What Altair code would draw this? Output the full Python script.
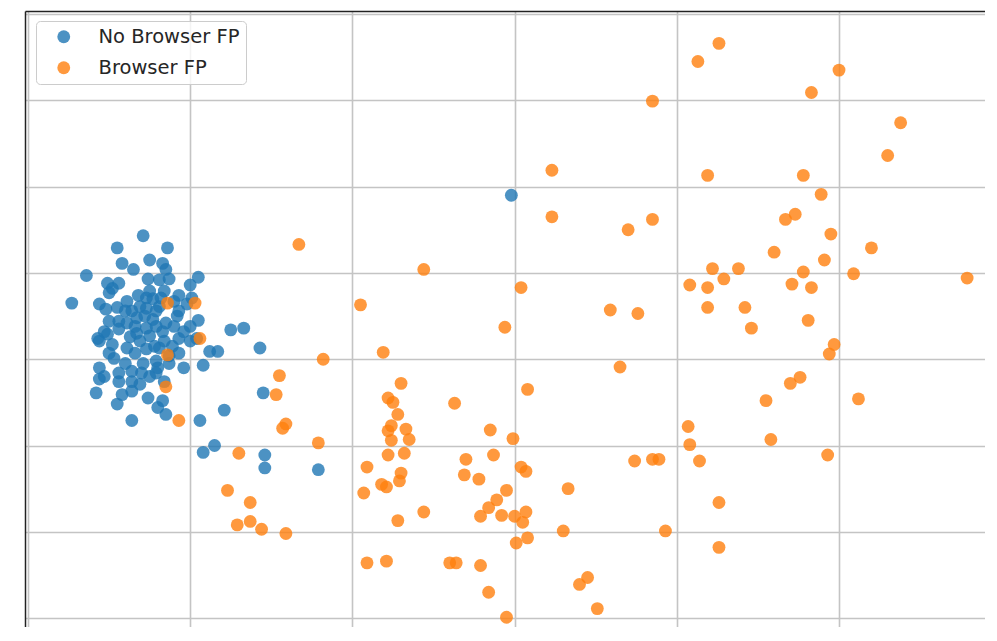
import altair as alt
import pandas as pd

# "No Browser FP" points
blue_x = [-2.29,-2.45,-2.14,-2.42,-2.25,-2.17,-2.35,-2.15,-2.64,-2.51,-2.44,-2.26,-2.19,-2.13,-1.95,-2.00,
          -2.48,-2.50,-2.32,-2.27,-2.23,-2.18,-2.07,-1.99,-2.73,-2.56,-2.52,-2.45,-2.36,-2.27,-2.21,-2.02,
          -1.95,-2.08,-2.33,-2.44,-2.23,-2.15,-1.75,-1.67,-1.57,-2.57,-2.51,-2.44,-2.33,-2.27,-2.17,-2.07,
          -2.00,-1.96,-2.48,-2.39,-2.34,-2.27,-2.19,-2.11,-2.07,-1.88,-1.83,-2.47,-2.29,-2.21,-2.13,-2.56,
          -2.44,-2.36,-2.20,-2.04,-1.92,-2.56,-2.44,-2.36,-2.31,-2.21,-2.58,-2.42,-2.36,-2.26,-2.17,-2.45,
          -2.20,-2.15,-2.36,-1.94,-1.79,-1.55,-1.92,-1.85,-1.54,-1.54,-1.21,-0.02,
          -2.56,-2.53,-2.50,-2.39,-2.37,-2.31,-2.25,-2.22,-2.16,-2.13,-2.10,-2.04,-2.25,-2.31,-2.19,-2.39,
          -2.10,-2.40,-2.30,-2.16,-2.53,-2.00,-2.07,-2.50,-2.34,-2.21,-2.28,-2.16,-2.40,-2.25]
blue_y = [1.43,1.29,1.29,1.11,1.15,1.11,1.04,1.04,0.97,0.88,0.88,0.93,0.92,0.93,0.95,0.86,
          0.82,0.77,0.74,0.71,0.70,0.71,0.74,0.71,0.65,0.64,0.58,0.60,0.56,0.59,0.56,0.64,
          0.45,0.50,0.48,0.44,0.46,0.42,0.34,0.36,0.13,0.24,0.29,0.35,0.30,0.36,0.32,0.24,
          0.21,0.24,0.17,0.13,0.07,0.12,0.13,0.15,0.07,0.09,0.09,0.01,-0.05,-0.02,-0.05,-0.10,
          -0.16,-0.14,-0.10,-0.10,-0.07,-0.23,-0.26,-0.26,-0.29,-0.16,-0.39,-0.41,-0.37,-0.45,-0.48,-0.52,
          -0.56,-0.64,-0.71,-0.71,-0.59,-0.39,-1.08,-1.00,-1.11,-1.26,-1.28,1.90,
          0.21,0.32,0.07,0.42,0.26,0.21,0.27,0.15,0.21,0.04,0.38,0.32,0.79,0.61,0.61,0.67,
          0.67,-0.05,-0.16,-0.26,-0.20,0.38,0.56,0.44,0.38,0.38,0.50,0.79,0.56,-0.20]

# "Browser FP" points
orange_x = [-1.33,-2.14,-1.97,-1.94,-2.14,-1.18,-1.45,-1.47,-2.15,-2.07,-1.41,-1.43,-1.21,-1.70,-1.77,-1.63,
            -1.71,-1.63,-1.56,-1.41,0.85,0.23,0.23,0.70,0.85,-0.56,-0.95,0.04,0.59,0.76,-0.06,-0.81,
            0.65,-0.70,0.08,-0.78,-0.75,-0.37,-0.72,-0.76,-0.78,-0.67,-0.65,-0.76,-0.15,-0.01,-0.78,-0.68,
            -0.91,-0.30,-0.13,0.04,0.07,0.74,0.85,0.89,-0.70,-0.71,-0.82,-0.79,-0.31,-0.22,-0.93,-0.05,
            -0.11,-0.16,-0.21,-0.08,0.00,0.07,0.05,0.33,-0.56,-0.72,0.30,0.93,0.08,0.01,-0.91,-0.79,
            -0.40,-0.36,-0.21,-0.16,0.45,0.40,0.51,-0.05,1.26,1.13,2.00,1.83,2.38,2.30,1.19,1.78,
            1.89,1.73,1.67,1.95,1.60,2.20,1.91,1.22,1.38,1.78,2.09,2.79,1.08,1.19,1.29,1.71,
            1.83,1.19,1.42,1.81,1.46,1.97,1.94,1.76,1.70,1.55,2.12,1.07,1.08,1.58,1.14,1.93,
            1.26,1.26]
orange_y = [1.33,0.65,0.65,0.24,0.05,0.00,-0.19,-0.41,-0.32,-0.71,-0.75,-0.80,-0.97,-1.09,-1.52,-1.66,
            -1.92,-1.88,-1.97,-2.02,2.99,2.19,1.65,1.50,1.62,1.04,0.63,0.83,0.57,0.53,0.37,0.08,
            -0.09,-0.28,-0.35,-0.45,-0.50,-0.51,-0.64,-0.77,-0.83,-0.81,-0.93,-0.94,-0.82,-0.92,-1.11,-1.09,
            -1.25,-1.16,-1.11,-1.25,-1.30,-1.18,-1.16,-1.16,-1.32,-1.41,-1.45,-1.48,-1.34,-1.39,-1.55,-1.52,
            -1.63,-1.72,-1.82,-1.81,-1.82,-1.77,-1.89,-1.50,-1.77,-1.87,-1.99,-1.99,-2.07,-2.13,-2.36,-2.34,
            -2.36,-2.36,-2.39,-2.70,-2.53,-2.61,-2.89,-2.99,3.66,3.45,3.35,3.09,2.74,2.36,2.13,2.13,
            1.91,1.68,1.62,1.45,1.24,1.29,1.15,1.05,1.05,1.01,0.99,0.94,0.86,0.83,0.93,0.87,
            0.83,0.60,0.60,0.45,0.36,0.17,0.06,-0.21,-0.28,-0.48,-0.46,-0.78,-0.99,-0.93,-1.18,-1.11,
            -1.66,-2.18]

groups = ["No Browser FP", "Browser FP"]
colors = ["#1f77b4", "#ff7f0e"]
x_ticks = [-3, -2, -1, 0, 1, 2]
y_ticks = [-3, -2, -1, 0, 1, 2, 3, 4]

df = pd.concat([
    pd.DataFrame({"x": blue_x, "y": blue_y, "group": groups[0]}),
    pd.DataFrame({"x": orange_x, "y": orange_y, "group": groups[1]}),
], ignore_index=True)

W, H = 960, 616
xmin = -3.0185
xmax = xmin + W / 162.2
ymax = 4.0348
ymin = ymax - H / 86.3

chart = alt.Chart(df).mark_circle(size=165, opacity=0.8).encode(
    x=alt.X("x:Q",
            scale=alt.Scale(domain=[xmin, xmax], nice=False, zero=False),
            axis=alt.Axis(orient="top", values=x_ticks, labels=False, ticks=False, title=None,
                          domain=True, domainColor="#222222", domainWidth=1.5,
                          grid=True, gridColor="#c4c4c4", gridWidth=1.6)),
    y=alt.Y("y:Q",
            scale=alt.Scale(domain=[ymin, ymax], nice=False, zero=False),
            axis=alt.Axis(orient="left", values=y_ticks, labels=False, ticks=False, title=None,
                          domain=True, domainColor="#222222", domainWidth=1.5,
                          grid=True, gridColor="#c4c4c4", gridWidth=1.6)),
    color=alt.Color("group:N",
                    scale=alt.Scale(domain=groups, range=colors),
                    legend=alt.Legend(orient="none", legendX=11, legendY=10, title=None,
                                      labelFont="DejaVu Sans", labelFontSize=19.5, labelColor="#262626",
                                      symbolType="circle", symbolSize=165, symbolOpacity=0.8,
                                      symbolStrokeWidth=0, symbolOffset=12, labelOffset=25,
                                      padding=6, rowPadding=10,
                                      fillColor="rgba(255,255,255,0.8)", strokeColor="#cccccc",
                                      cornerRadius=4)),
).properties(
    width=W, height=H,
    padding={"left": 17, "top": 3, "right": 0, "bottom": 0},
    autosize=alt.AutoSizeParams(type="none"),
    background="white",
).configure_view(stroke=None)

chart.save("out.html", embed_options={"renderer": "svg", "actions": False})
